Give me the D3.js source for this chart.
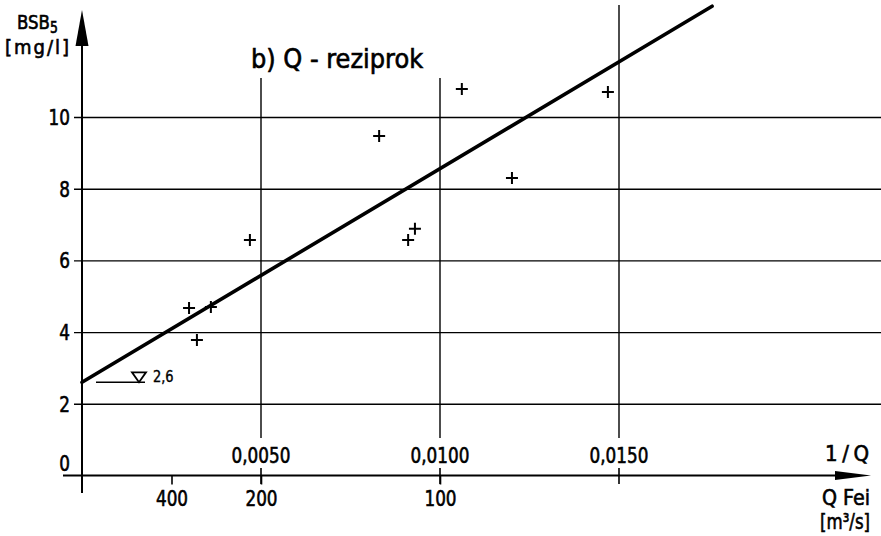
<!DOCTYPE html>
<html>
<head>
<meta charset="utf-8">
<script src="https://cdn.jsdelivr.net/npm/d3@7"></script>
<style>
  body { margin: 0; background: #fff; }
  svg { display: block; }
  text { font-family: "DejaVu Sans Condensed", "DejaVu Sans", sans-serif; fill: #000; stroke: #000; stroke-width: 0.6px; }
</style>
</head>
<body>
<div id="chart"></div>
<script>
// values
var invQ = [0.00299, 0.00321, 0.00360, 0.00469, 0.00830, 0.00911, 0.00930, 0.01061, 0.01201, 0.01469];
var bsb  = [4.67, 3.78, 4.70, 6.57, 9.47, 6.57, 6.88, 10.78, 8.30, 10.70];

var yTicks = [0, 2, 4, 6, 8, 10];
var xTicks = [0.005, 0.010, 0.015];
var xTickLabels = ["0,0050", "0,0100", "0,0150"];
var qTicks = [400, 200, 100];

// regression line  BSB5 = 2,6 + b * 1/Q
var fitIntercept = 2.6,
    fitSlope = 596,
    fitRange = [0, 0.0176];

var width = 881,
    height = 536;

var fontTick = "22px";

// narrow the lettering (drawing uses a condensed stencil-like font)
function squeeze(sel, k) {
  sel.each(function(){
    var w = this.getComputedTextLength();
    d3.select(this).attr("textLength", w * k).attr("lengthAdjust", "spacingAndGlyphs");
  });
}

var svg = d3.select("#chart")
  .append("svg")
    .attr("width", width)
    .attr("height", height);

var x = d3.scaleLinear().domain([0, 0.02]).range([82, 798]);
var y = d3.scaleLinear().domain([0, 10]).range([475.5, 117]);

// horizontal grid (y ticks)
var yAxis = d3.axisLeft(y)
  .tickValues(yTicks.filter(function(d){ return d > 0; }))
  .tickSize(-(width - 82))
  .tickPadding(0)
  .tickFormat("");
svg.append("g")
  .attr("transform", "translate(" + x(0) + ",0)")
  .call(yAxis)
  .call(function(g){ g.select(".domain").remove(); })
  .selectAll("line")
    .attr("x1", -8)
    .attr("stroke", "#000")
    .attr("stroke-width", 1.4);

// y tick labels
svg.append("g").selectAll("text")
  .data(yTicks)
  .enter()
  .append("text")
    .attr("x", 70)
    .attr("y", function(d){ return d == 0 ? y(d) - 5 : y(d) + 8; })
    .attr("text-anchor", "end")
    .style("font-size", fontTick)
    .text(function(d){ return d; })
    .call(squeeze, 0.85);

// vertical grid lines
var gridTop = [78, 78, 5];
svg.append("g").selectAll("line")
  .data(xTicks)
  .enter()
  .append("line")
    .attr("x1", function(d){ return x(d); })
    .attr("x2", function(d){ return x(d); })
    .attr("y1", function(d, i){ return gridTop[i]; })
    .attr("y2", 438)
    .attr("stroke", "#000")
    .attr("stroke-width", 1.4);

// small ticks crossing the x axis
svg.append("g").selectAll("line")
  .data(xTicks)
  .enter()
  .append("line")
    .attr("x1", function(d){ return x(d); })
    .attr("x2", function(d){ return x(d); })
    .attr("y1", 468)
    .attr("y2", 484)
    .attr("stroke", "#000")
    .attr("stroke-width", 1.6);

// 1/Q labels above axis
svg.append("g").selectAll("text")
  .data(xTicks)
  .enter()
  .append("text")
    .attr("x", function(d){ return x(d); })
    .attr("y", 463)
    .attr("text-anchor", "middle")
    .style("font-size", fontTick)
    .text(function(d, i){ return xTickLabels[i]; })
    .call(squeeze, 0.85);

// Q labels below axis
var qAxis = d3.axisBottom(x)
  .tickValues(qTicks.map(function(q){ return 1 / q; }))
  .tickSize(9)
  .tickPadding(6)
  .tickFormat(function(d){ return Math.round(1 / d); });
svg.append("g")
  .attr("transform", "translate(0," + y(0) + ")")
  .call(qAxis)
  .call(function(g){ g.select(".domain").remove(); })
  .call(function(g){
    g.selectAll("line").attr("stroke", "#000").attr("stroke-width", 1.6);
    g.selectAll("text")
      .style("font-size", fontTick)
      .style("font-family", "'DejaVu Sans Condensed', 'DejaVu Sans', sans-serif")
      .attr("fill", "#000")
      .call(squeeze, 0.85);
  });

// axes with arrows
svg.append("line")
  .attr("x1", 63).attr("x2", 840)
  .attr("y1", y(0)).attr("y2", y(0))
  .attr("stroke", "#000").attr("stroke-width", 2);
svg.append("path")
  .attr("d", "M835," + (y(0) - 4.5) + "L871," + y(0) + "L835," + (y(0) + 4.5) + "Z")
  .attr("fill", "#000");

svg.append("line")
  .attr("x1", x(0)).attr("x2", x(0))
  .attr("y1", 493).attr("y2", 40)
  .attr("stroke", "#000").attr("stroke-width", 2);
svg.append("path")
  .attr("d", "M" + (x(0) - 6.5) + ",46L" + x(0) + ",10L" + (x(0) + 6.5) + ",46Z")
  .attr("fill", "#000");

// regression line
var line = d3.line()
  .x(function(d){ return x(d); })
  .y(function(d){ return y(fitIntercept + fitSlope * d); });
svg.append("path")
  .datum(fitRange)
  .attr("d", line)
  .attr("fill", "none")
  .attr("stroke", "#000")
  .attr("stroke-width", 3.6)
  .attr("stroke-linecap", "round");

// data points as + marks
var pts = invQ.map(function(v, i){ return {x: v, y: bsb[i]}; });
svg.append("g").selectAll("path")
  .data(pts)
  .enter()
  .append("path")
    .attr("d", function(d){
      var px = x(d.x), py = y(d.y);
      return "M" + (px - 6) + "," + py + "H" + (px + 6) + "M" + px + "," + (py - 6) + "V" + (py + 6);
    })
    .attr("stroke", "#000")
    .attr("stroke-width", 2);

// intercept marker 2,6
var yi = y(fitIntercept);
svg.append("line")
  .attr("x1", 96).attr("x2", 145)
  .attr("y1", yi).attr("y2", yi)
  .attr("stroke", "#000").attr("stroke-width", 1.4);
svg.append("path")
  .attr("d", "M132," + (yi - 10) + "H146L139," + yi + "Z")
  .attr("fill", "none")
  .attr("stroke", "#000")
  .attr("stroke-width", 1.8);
svg.append("text")
  .attr("x", 153).attr("y", yi)
  .style("font-size", "16px")
  .style("stroke-width", "0.4px")
  .text("2,6")
  .call(squeeze, 0.9);

// axis titles
var yLab = svg.append("text")
  .attr("transform", "translate(17,29) scale(0.92,1)")
  .style("font-size", "20px");
yLab.append("tspan").text("BSB");
yLab.append("tspan").attr("dy", 4).style("font-size", "15px").text("5");
svg.append("text")
  .attr("x", 5).attr("y", 54)
  .style("font-size", "20px")
  .attr("textLength", 64)
  .attr("lengthAdjust", "spacing")
  .text("[mg/l]");

svg.append("text")
  .attr("x", 825).attr("y", 461)
  .style("font-size", fontTick)
  .attr("textLength", 44)
  .attr("lengthAdjust", "spacing")
  .text("1/Q");
svg.append("text")
  .attr("x", 822).attr("y", 505)
  .style("font-size", fontTick)
  .attr("textLength", 48)
  .attr("lengthAdjust", "spacingAndGlyphs")
  .text("Q Fei");
svg.append("text")
  .attr("x", 820).attr("y", 529)
  .style("font-size", fontTick)
  .attr("textLength", 50)
  .attr("lengthAdjust", "spacingAndGlyphs")
  .text("[m³/s]");

// panel title
svg.append("text")
  .attr("x", 251).attr("y", 68)
  .style("font-size", "26px")
  .text("b) Q - reziprok")
  .call(squeeze, 1.03);
</script>
</body>
</html>
